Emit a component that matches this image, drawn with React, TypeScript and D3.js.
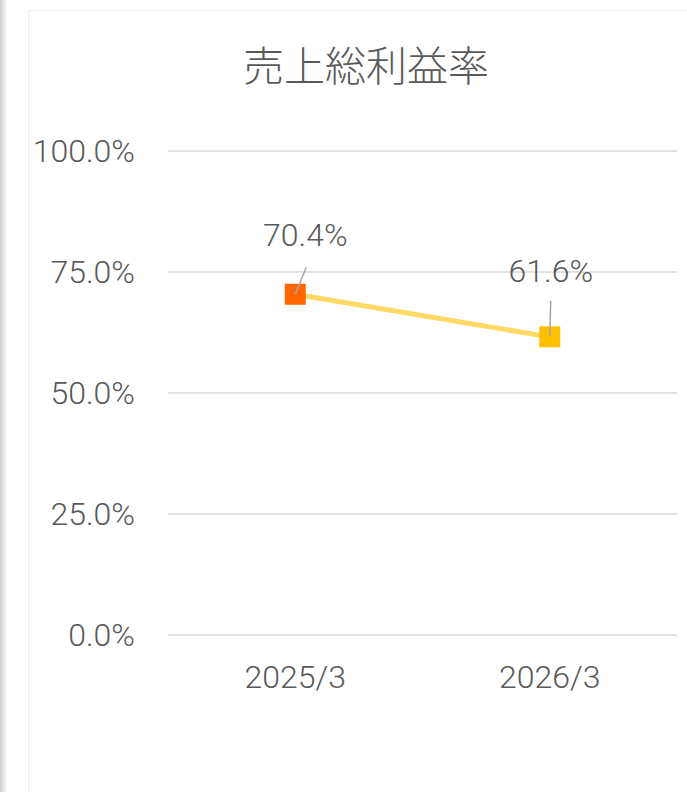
import * as d3 from "d3";

const categories = ["2025/3", "2026/3"];
const values = [0.704, 0.616];
const markerColors = ["#FF6600", "#FFC000"];
const yTicks = [0, 0.25, 0.5, 0.75, 1.0];
const title = "売上総利益率";

export default function App() {
  const width = 687;
  const height = 792;
  const plotLeft = 168;
  const plotRight = 677;
  const plotTop = 151;
  const plotBottom = 635;

  const x = d3
    .scalePoint<string>()
    .domain(categories)
    .range([plotLeft, plotRight])
    .padding(0.5);

  const y = d3.scaleLinear().domain([0, 1]).range([plotBottom, plotTop]);

  const line = d3
    .line<number>()
    .x((d, i) => x(categories[i]) as number)
    .y((d) => y(d));

  const fmt = d3.format(".1%");
  const font = "Roboto, 'Noto Sans CJK JP', sans-serif";
  const textColor = "#595959";

  // label offsets (label anchor relative to point)
  const labelPos = [
    { dx: 10, dy: -48, lx: 11, ly: -27 },
    { dx: 1, dy: -55, lx: 1, ly: -36 },
  ];

  return (
    <svg
      width={width}
      height={height}
      style={{ position: "absolute", left: 0, top: 0 }}
    >
      <defs>
        <linearGradient id="shadow" x1="0" x2="1" y1="0" y2="0">
          <stop offset="0" stopColor="#cfcfcf" />
          <stop offset="1" stopColor="#f4f4f4" />
        </linearGradient>
      </defs>
      <rect x={0} y={0} width={width} height={height} fill="#fff" />
      <rect x={0} y={0} width={6} height={height} fill="url(#shadow)" />
      <rect
        x={28.5}
        y={10.5}
        width={width}
        height={height}
        fill="#fff"
        stroke="#eeeeee"
        strokeWidth={1}
      />

      <text
        x={366}
        y={81}
        textAnchor="middle"
        fontFamily="'Noto Sans CJK JP', sans-serif"
        fontWeight={300}
        fontSize={41}
        fill={textColor}
      >
        {title}
      </text>

      {yTicks.map((t) => (
        <g key={t}>
          <line
            x1={plotLeft}
            x2={plotRight}
            y1={y(t)}
            y2={y(t)}
            stroke="#d9d9d9"
            strokeWidth={1.5}
          />
          <text
            x={135}
            y={y(t)}
            dy="0.34em"
            textAnchor="end"
            fontFamily={font}
            fontWeight={300}
            fontSize={32}
            fill={textColor}
          >
            {fmt(t)}
          </text>
        </g>
      ))}

      {categories.map((c) => (
        <text
          key={c}
          x={x(c)}
          y={688}
          textAnchor="middle"
          fontFamily={font}
          fontWeight={300}
          fontSize={32}
          fill={textColor}
        >
          {c}
        </text>
      ))}

      <path
        d={line(values) || ""}
        fill="none"
        stroke="#FFD966"
        strokeWidth={5}
        strokeLinecap="round"
      />

      {values.map((v, i) => {
        const cx = x(categories[i]) as number;
        const cy = y(v);
        const p = labelPos[i];
        return (
          <g key={i}>
            <rect
              x={cx - 10.5}
              y={cy - 10.5}
              width={21}
              height={21}
              fill={markerColors[i]}
            />
            <line
              x1={cx + p.lx}
              y1={cy + p.ly}
              x2={cx}
              y2={cy}
              stroke="#a6a6a6"
              strokeWidth={1.5}
            />
            <text
              x={cx + p.dx}
              y={cy + p.dy}
              textAnchor="middle"
              fontFamily={font}
              fontWeight={300}
              fontSize={32}
              fill={textColor}
            >
              {fmt(v)}
            </text>
          </g>
        );
      })}
    </svg>
  );
}
